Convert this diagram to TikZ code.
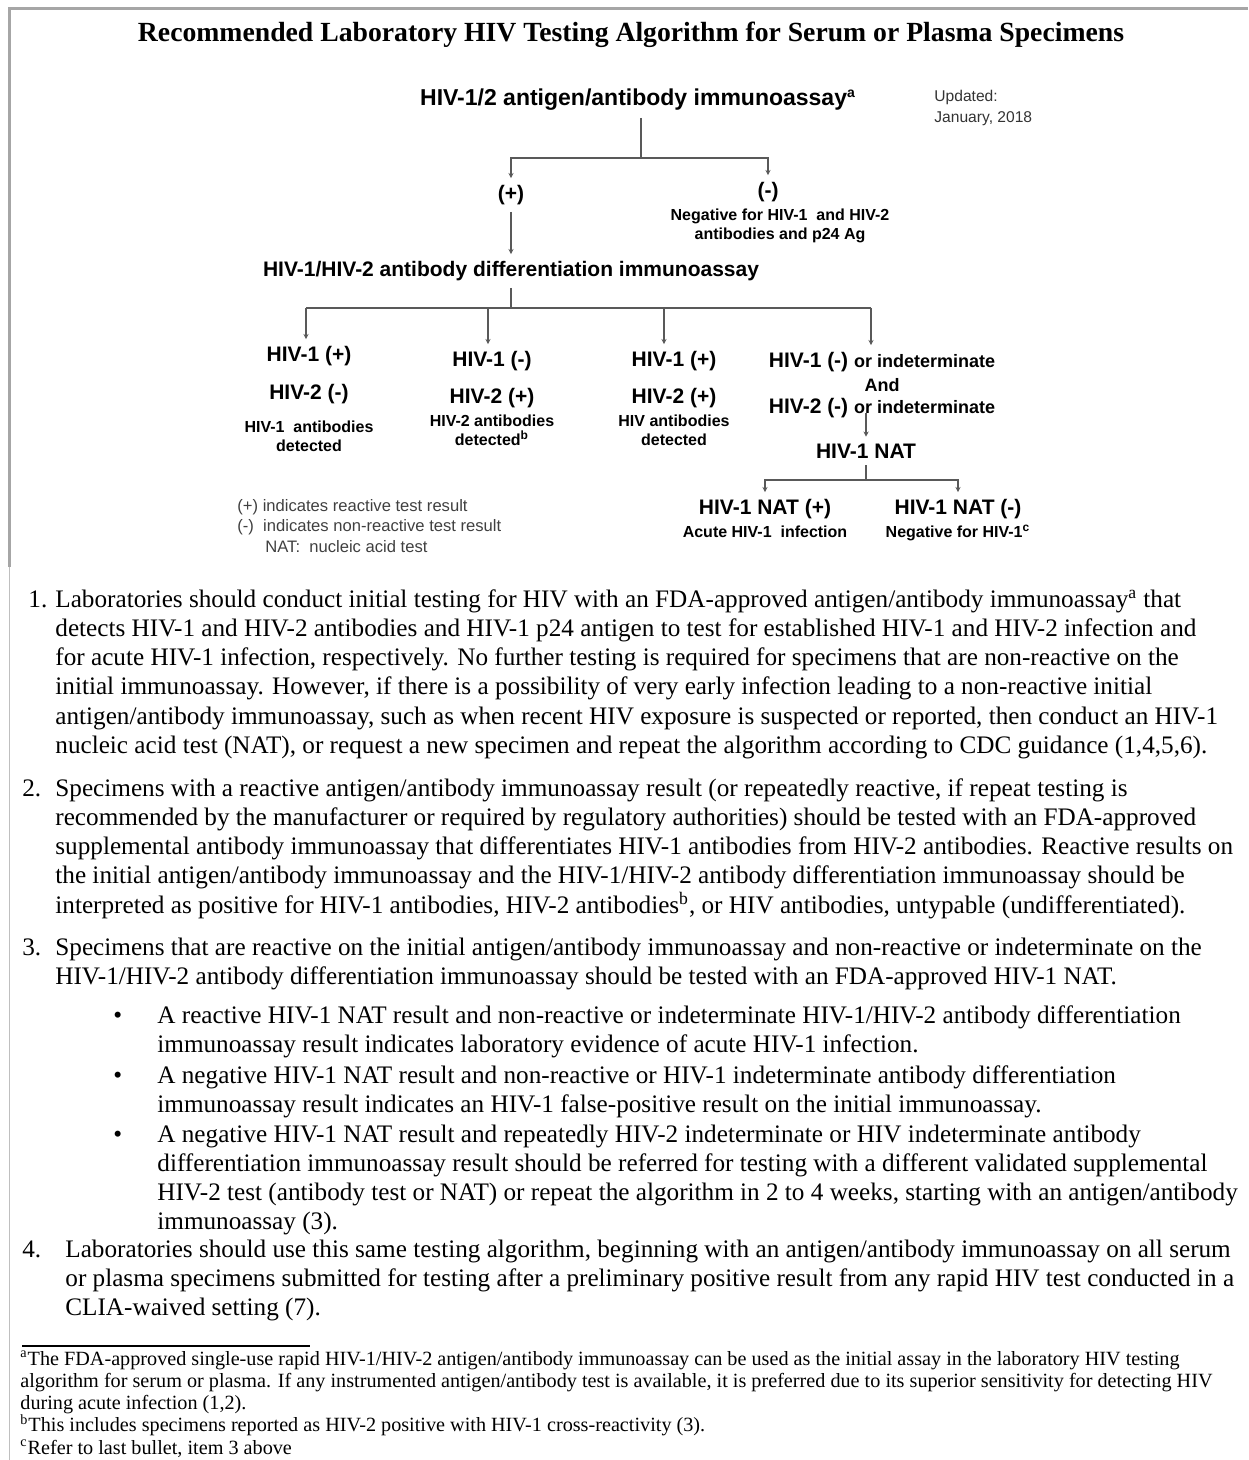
\documentclass[tikz,border=0pt]{standalone}
\usepackage{fontspec}
\setmainfont{Liberation Serif}
\setsansfont{Liberation Sans}
\usetikzlibrary{arrows.meta}

\tikzset{
  ttl/.style={font=\rmfamily\bfseries\fontsize{13.85}{16}\selectfont},
  lbl/.style={font=\sffamily\bfseries\fontsize{10.5}{12.6}\selectfont},
  sml/.style={font=\sffamily\bfseries\fontsize{8}{9.6}\selectfont, align=center},
  leg/.style={font=\sffamily\fontsize{8.3}{9.8}\selectfont, text=black!75, anchor=west, inner sep=0pt},
  body/.style={font=\rmfamily\fontsize{12.6}{14}\selectfont, anchor=base west, inner sep=0pt},
  foot/.style={font=\rmfamily\fontsize{10.1}{11}\selectfont, anchor=base west, inner sep=0pt},
  conn/.style={draw=black!65, line width=0.6pt},
  arr/.style={conn, -{Stealth[length=2.6pt,width=2.6pt]}},
}

\begin{document}
\begin{tikzpicture}[x=0.5pt,y=-0.5pt]
  \useasboundingbox (0,0) rectangle (1248,1460);

  % frame
  \draw[black!35, line width=1.5pt] (9,567) -- (9,9) -- (1248,9);
  \draw[black!25, line width=0.5pt] (9,567) -- (9,1460);

  % title
  \node[ttl] (title) at (631,35) {Recommended Laboratory HIV Testing Algorithm for Serum or Plasma Specimens};

  % first assay
  \node[lbl, font=\sffamily\bfseries\fontsize{11.5}{13}\selectfont] (ag) at (638,100) {HIV-1/2 antigen/antibody immunoassay\textsuperscript{\scriptsize a}};
  \node[leg, text=black!80, font=\sffamily\fontsize{7.8}{9}\selectfont] (upd1) at (934,97) {Updated:};
  \node[leg, text=black!80, font=\sffamily\fontsize{7.8}{9}\selectfont] (upd2) at (934,119) {January, 2018};

  \node[lbl] (pos) at (511,195) {(+)};
  \node[lbl] (neg) at (768,192) {(-)};
  \node[sml] (negtxt) at (780,226) {Negative for HIV-1\ \ and HIV-2\\antibodies and p24 Ag};

  % differentiation assay
  \node[lbl] (diff) at (511,271) {HIV-1/HIV-2 antibody differentiation immunoassay};

  \node[lbl] (c1a) at (309,356) {HIV-1 (+)};
  \node[lbl] (c1b) at (309,394) {HIV-2 (-)};
  \node[sml] (c1c) at (309,436) {HIV-1\ \ antibodies\\detected};

  \node[lbl] (c2a) at (492,361) {HIV-1 (-)};
  \node[lbl] (c2b) at (492,398) {HIV-2 (+)};
  \node[sml] (c2c) at (492,430) {HIV-2 antibodies\\detected\textsuperscript{b}};

  \node[lbl] (c3a) at (674,361) {HIV-1 (+)};
  \node[lbl] (c3b) at (674,398) {HIV-2 (+)};
  \node[sml] (c3c) at (674,430) {HIV antibodies\\detected};

  \node[lbl] (c4a) at (882,362) {HIV-1 (-) {\fontsize{9}{10}\selectfont or indeterminate}};
  \node[lbl, font=\sffamily\bfseries\fontsize{9}{10}\selectfont] (c4b) at (882,385) {And};
  \node[lbl] (c4c) at (882,408) {HIV-2 (-) {\fontsize{9}{10}\selectfont or indeterminate}};

  % NAT
  \node[lbl] (nat) at (866,451) {HIV-1 NAT};
  \node[lbl] (natp) at (765,509) {HIV-1 NAT (+)};
  \node[sml] (natptxt) at (765,532) {Acute HIV-1\ \ infection};
  \node[lbl] (natn) at (958,509) {HIV-1 NAT (-)};
  \node[sml] (natntxt) at (958,533) {Negative for HIV-1\textsuperscript{c}};

  % legend
  \node[leg] (leg1) at (237,507) {(+)\ indicates reactive test result};
  \node[leg] (leg2) at (237,527) {(-)\ \ indicates non-reactive test result};
  \node[leg] (leg3) at (265,547) {NAT:\ \ nucleic acid test};

  % connectors
  \coordinate (j1) at (641,158);
  \draw[conn] (ag.south -| j1) -- (j1);
  \draw[arr] (j1) -| (pos);
  \draw[arr] (j1) -| (neg);
  \draw[arr] (pos) -- (diff);

  \coordinate (j2) at (511,308);
  \coordinate (b1) at (306,308);
  \coordinate (b2) at (488,308);
  \coordinate (b3) at (664,308);
  \coordinate (b4) at (871,308);
  \draw[conn] (diff) -- (j2);
  \draw[conn] (b1) -- (b4);
  \foreach \b/\c in {b1/c1a, b2/c2a, b3/c3a, b4/c4a}
    \draw[arr] (\b) -- (\b |- \c.north);

  \draw[arr] (c4c.base -| nat) -- (nat);
  \coordinate (j3) at (866,480);
  \draw[conn] (nat) -- (j3);
  \draw[arr] (j3) -| (natp);
  \draw[arr] (j3) -| (natn);

  % numbered notes
  \node[body] (n1) at (28,607) {1.};
  \foreach \txt [count=\i] in {
    {Laboratories should conduct initial testing for HIV with an FDA-approved antigen/antibody immunoassay\textsuperscript{a} that},
    {detects HIV-1 and HIV-2 antibodies and HIV-1 p24 antigen to test for established HIV-1 and HIV-2 infection and},
    {for acute HIV-1 infection, respectively. No further testing is required for specimens that are non-reactive on the},
    {initial immunoassay. However, if there is a possibility of very early infection leading to a non-reactive initial},
    {antigen/antibody immunoassay, such as when recent HIV exposure is suspected or reported, then conduct an HIV-1},
    {nucleic acid test (NAT), or request a new specimen and repeat the algorithm according to CDC guidance (1,4,5,6).}}
    \node[body] (pa\i) at (55,{607+29.3*(\i-1)}) {\txt};

  \node[body] (n2) at (22,796) {2.};
  \foreach \txt [count=\i] in {
    {Specimens with a reactive antigen/antibody immunoassay result (or repeatedly reactive, if repeat testing is},
    {recommended by the manufacturer or required by regulatory authorities) should be tested with an FDA-approved},
    {supplemental antibody immunoassay that differentiates HIV-1 antibodies from HIV-2 antibodies. Reactive results on},
    {the initial antigen/antibody immunoassay and the HIV-1/HIV-2 antibody differentiation immunoassay should be},
    {interpreted as positive for HIV-1 antibodies, HIV-2 antibodies\textsuperscript{b}, or HIV antibodies, untypable (undifferentiated).}}
    \node[body] (pb\i) at (55,{796+29.3*(\i-1)}) {\txt};

  \node[body] (n3) at (22,955) {3.};
  \foreach \txt [count=\i] in {
    {Specimens that are reactive on the initial antigen/antibody immunoassay and non-reactive or indeterminate on the},
    {HIV-1/HIV-2 antibody differentiation immunoassay should be tested with an FDA-approved HIV-1 NAT.}}
    \node[body] (pc\i) at (55,{955+29.3*(\i-1)}) {\txt};

  % bullets
  \node[body] (d1) at (113,1023) {•};
  \foreach \txt [count=\i] in {
    {A reactive HIV-1 NAT result and non-reactive or indeterminate HIV-1/HIV-2 antibody differentiation},
    {immunoassay result indicates laboratory evidence of acute HIV-1 infection.}}
    \node[body] (pd\i) at (157,{1023+29.3*(\i-1)}) {\txt};

  \node[body] (d2) at (113,1083) {•};
  \foreach \txt [count=\i] in {
    {A negative HIV-1 NAT result and non-reactive or HIV-1 indeterminate antibody differentiation},
    {immunoassay result indicates an HIV-1 false-positive result on the initial immunoassay.}}
    \node[body] (pe\i) at (157,{1083+29.3*(\i-1)}) {\txt};

  \node[body] (d3) at (113,1142) {•};
  \foreach \txt [count=\i] in {
    {A negative HIV-1 NAT result and repeatedly HIV-2 indeterminate or HIV indeterminate antibody},
    {differentiation immunoassay result should be referred for testing with a different validated supplemental},
    {HIV-2 test (antibody test or NAT) or repeat the algorithm in 2 to 4 weeks, starting with an antigen/antibody},
    {immunoassay (3).}}
    \node[body] (pf\i) at (157,{1142+29.3*(\i-1)}) {\txt};

  \node[body] (n4) at (22,1257) {4.};
  \foreach \txt [count=\i] in {
    {Laboratories should use this same testing algorithm, beginning with an antigen/antibody immunoassay on all serum},
    {or plasma specimens submitted for testing after a preliminary positive result from any rapid HIV test conducted in a},
    {CLIA-waived setting (7).}}
    \node[body] (pg\i) at (65,{1257+29.3*(\i-1)}) {\txt};

  % footnotes
  \draw[line width=0.6pt] (22,1346) -- (310,1346);
  \foreach \txt [count=\i] in {
    {\textsuperscript{a}The FDA-approved single-use rapid HIV-1/HIV-2 antigen/antibody immunoassay can be used as the initial assay in the laboratory HIV testing},
    {algorithm for serum or plasma. If any instrumented antigen/antibody test is available, it is preferred due to its superior sensitivity for detecting HIV},
    {during acute infection (1,2).},
    {\textsuperscript{b}This includes specimens reported as HIV-2 positive with HIV-1 cross-reactivity (3).},
    {\textsuperscript{c}Refer to last bullet, item 3 above}}
    \node[foot] (fn\i) at (20,{1365+22.3*(\i-1)}) {\txt};
\end{tikzpicture}
\end{document}
